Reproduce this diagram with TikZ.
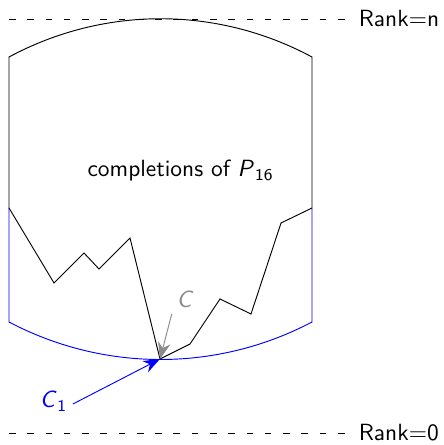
\documentclass[tikz,border=0pt]{standalone}
\usepackage{xcolor}
\definecolor{chain}{HTML}{0000FF}
\definecolor{hint}{HTML}{8A8A8A}
\usepackage{tikz}
\usetikzlibrary{arrows.meta,calc}
\newcommand{\lowsub}[1]{\kern0.3pt\raisebox{-1.6pt}{\scriptsize #1}}

\begin{document}
\begin{tikzpicture}[x=0.015cm, y=-0.015cm, font=\sffamily]
  \tikzset{rankline/.style={dash pattern=on 2.8pt off 5pt}}
  \useasboundingbox (0,0) rectangle (443,445);
  % rank levels
  \coordinate (topL) at (9,19);
  \coordinate (botL) at (9,433);
  \node[anchor=west, inner sep=1pt] (rankn) at (356,19) {Rank=n};
  \node[anchor=west, inner sep=1pt] (rank0) at (356,433) {Rank=0};
  \draw[rankline] (topL) -- ([xshift=-3pt]rankn.west);
  \draw[rankline] (botL) -- ([xshift=-3pt]rank0.west);
  % the region
  \coordinate (ul) at (9,57);
  \coordinate (ur) at (312,57);
  \coordinate (ml) at (9,208);
  \coordinate (mr) at (312,208);
  \coordinate (ll) at (9,322);
  \coordinate (lr) at (312,322);
  \coordinate (bot) at (160,359);
  \draw (ml) -- (ul) .. controls (104,6) and (217,6) .. (ur) -- (mr);
  \draw[chain] (ml) -- (ll) .. controls (104,372) and (217,372) .. (lr) -- (mr);
  % the chain
  \draw (ml) -- (54,283) -- (84,253) -- (99,269) -- (130,238) -- (bot)
        -- (190,344) -- (220,299) -- (251,314) -- (281,223) -- (mr);
  \node (compl) at (180,171) {completions of \textit{P}\lowsub{16}};
  % labels
  \node[hint, font=\sffamily\itshape, inner sep=1pt] (lblC) at (184,299) {C};
  \node[chain, inner sep=1pt] (lblCone) at (53,401) {\textit{C}\lowsub{1}};
  \draw[hint, -{Stealth[length=2.5mm]}] ($(lblC.south west)+(-2,4)$) -- (bot);
  \draw[chain, -{Stealth[length=2.5mm]}] ($(lblCone.east)+(4,3)$) -- (bot);
\end{tikzpicture}
\end{document}
